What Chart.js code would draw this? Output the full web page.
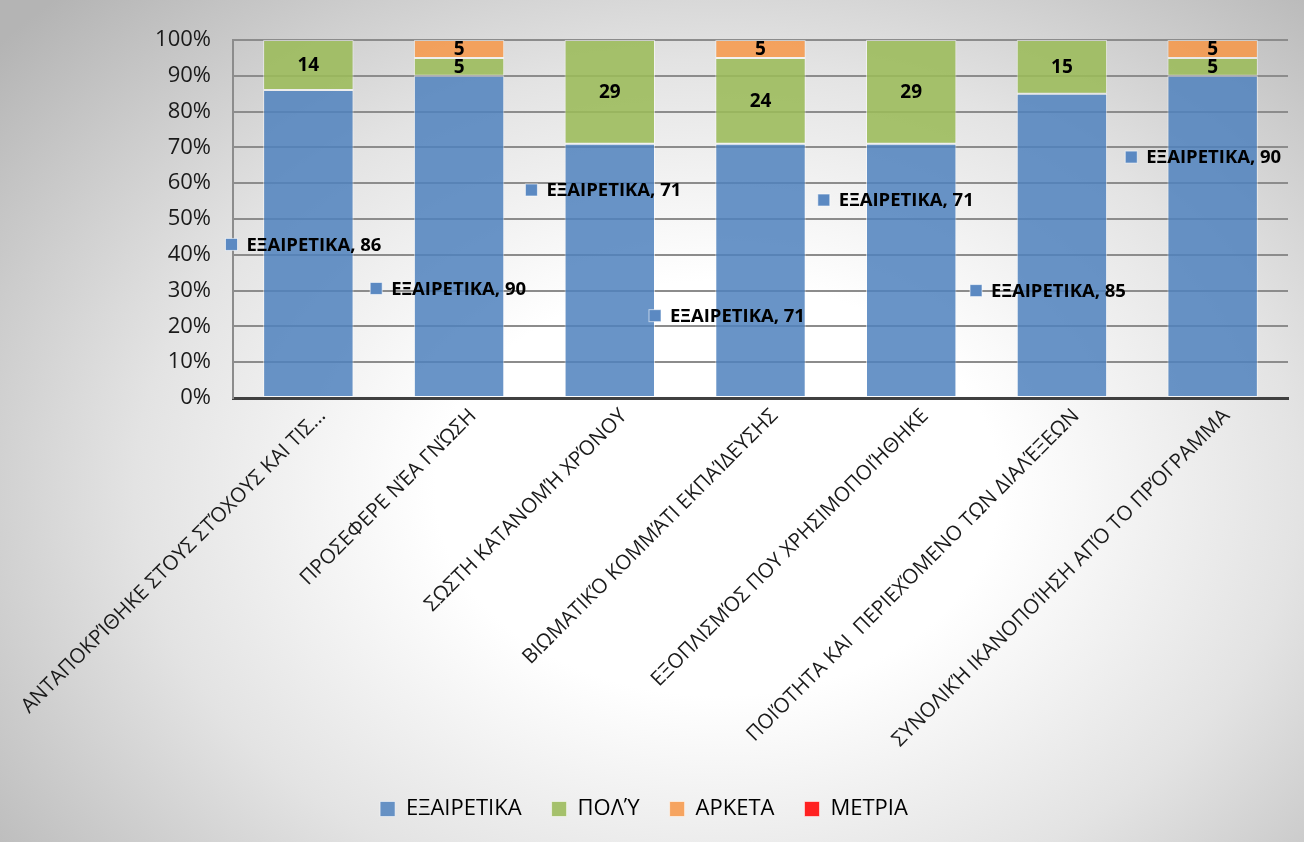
<!DOCTYPE html>
<html>
<head>
<meta charset="utf-8">
<script src="https://cdn.jsdelivr.net/npm/chart.js@4.4.1/dist/chart.umd.min.js"></script>
<style>
  html, body { margin: 0; padding: 0; }
  #wrap {
    width: 1304px; height: 842px;
    background: radial-gradient(ellipse 72% 82% at 55% 58%, #ffffff 30%, #e3e3e3 62%, #b4b4b4 100%);
  }
</style>
</head>
<body>
<div id="wrap"><canvas id="chart-data" width="1304" height="842"></canvas></div>
<script>
var categories = [
    "ΑΝΤΑΠΟΚΡΊΘΗΚΕ ΣΤΟΥΣ ΣΤΌΧΟΥΣ ΚΑΙ ΤΙΣ…",
    "ΠΡΟΣΕΦΕΡΕ ΝΈΑ ΓΝΏΣΗ",
    "ΣΩΣΤΗ ΚΑΤΑΝΟΜΉ ΧΡΌΝΟΥ",
    "ΒΙΩΜΑΤΙΚΌ ΚΟΜΜΆΤΙ ΕΚΠΑΊΔΕΥΣΗΣ",
    "ΕΞΟΠΛΙΣΜΌΣ ΠΟΥ ΧΡΗΣΙΜΟΠΟΙΉΘΗΚΕ",
    "ΠΟΙΌΤΗΤΑ ΚΑΙ  ΠΕΡΙΕΧΌΜΕΝΟ ΤΩΝ ΔΙΑΛΈΞΕΩΝ",
    "ΣΥΝΟΛΙΚΉ ΙΚΑΝΟΠΟΊΗΣΗ ΑΠΌ ΤΟ ΠΡΌΓΡΑΜΜΑ"
];
var excellent = [86, 90, 71, 71, 71, 85, 90];   // ΕΞΑΙΡΕΤΙΚΑ
var veryMuch = [14, 5, 29, 24, 29, 15, 5];      // ΠΟΛΎ
var enough = [0, 5, 0, 5, 0, 0, 5];             // ΑΡΚΕΤΑ
var moderate = [0, 0, 0, 0, 0, 0, 0];           // ΜΕΤΡΙΑ
var yTicks = [0, 10, 20, 30, 40, 50, 60, 70, 80, 90, 100];

// where excel dropped the ΕΞΑΙΡΕΤΙΚΑ callouts: [offset in categories, y value]
var calloutSpots = [[-0.51, 42.9], [-0.55, 30.6], [-0.52, 58.1], [-0.70, 23.0], [-0.58, 55.3], [-0.57, 30.0], [-0.54, 67.3]];

var FONT = "'Open Sans', sans-serif";
var blue = "rgba(79, 129, 189, 0.85)";

var barLabels = {
    id: "barLabels",
    afterDatasetsDraw: function (chart) {
        var ctx = chart.ctx;
        ctx.save();
        ctx.font = "bold 19px " + FONT;
        ctx.fillStyle = "#000";
        ctx.textAlign = "center";
        ctx.textBaseline = "middle";
        [1, 2].forEach(function (di) {
            var ds = chart.data.datasets[di];
            chart.getDatasetMeta(di).data.forEach(function (bar, i) {
                var v = ds.data[i];
                if (!v) return;
                var p = bar.getProps(["x", "y", "base"], true);
                ctx.fillText(String(v), p.x, (p.y + p.base) / 2 + 1);
            });
        });
        // callouts
        var xs = chart.scales.x, ys = chart.scales.y;
        var step = xs.width / categories.length;
        ctx.textAlign = "left";
        ctx.font = "bold 18.5px " + FONT;
        excellent.forEach(function (v, i) {
            var cx = xs.getPixelForValue(i) + calloutSpots[i][0] * step;
            var cy = ys.getPixelForValue(calloutSpots[i][1]);
            ctx.fillStyle = "#5b89c2";
            ctx.fillRect(cx - 6, cy - 6, 12, 12);
            ctx.strokeStyle = "rgba(255,255,255,0.6)";
            ctx.lineWidth = 1;
            ctx.strokeRect(cx - 6, cy - 6, 12, 12);
            ctx.fillStyle = "#000";
            ctx.fillText("ΕΞΑΙΡΕΤΙΚΑ, " + v, cx + 15, cy + 1);
        });
        ctx.restore();
    }
};

var ctx = document.getElementById("chart-data").getContext("2d");
var chart = new Chart(ctx, {
    type: "bar",
    data: {
        labels: categories,
        datasets: [
            { label: "ΕΞΑΙΡΕΤΙΚΑ", data: excellent, backgroundColor: blue },
            { label: "ΠΟΛΎ", data: veryMuch, backgroundColor: "rgba(155, 187, 89, 0.88)" },
            { label: "ΑΡΚΕΤΑ", data: enough, backgroundColor: "rgba(247, 150, 70, 0.85)" },
            { label: "ΜΕΤΡΙΑ", data: moderate, backgroundColor: "#ff2121" },
        ],
    },
    options: {
        responsive: false,
        animation: false,
        layout: { padding: { top: 40, right: 16, bottom: 12, left: 0 } },
        datasets: {
            bar: {
                categoryPercentage: 1,
                barPercentage: 0.6,
                borderColor: "rgba(255, 255, 255, 0.55)",
                borderWidth: 1,
                borderSkipped: false,
            },
        },
        plugins: {
            legend: {
                position: "bottom",
                labels: {
                    color: "#000",
                    font: { family: FONT, size: 22 },
                    boxWidth: 15,
                    boxHeight: 15,
                    padding: 30,
                },
            },
            tooltip: { enabled: false },
        },
        scales: {
            x: {
                stacked: true,
                grid: { display: false, drawTicks: false },
                border: { color: "#404040", width: 3 },
                ticks: {
                    color: "#1a1a1a",
                    font: { family: FONT, size: 20.5 },
                    maxRotation: 45,
                    minRotation: 45,
                    padding: 6,
                    labelOffset: 14,
                    autoSkip: false,
                },
                afterFit: function (scale) {
                    scale.height = 370;
                    scale.paddingLeft = 0;
                    scale.paddingRight = 0;
                },
            },
            y: {
                stacked: true,
                min: 0,
                max: 100,
                afterBuildTicks: function (scale) {
                    scale.ticks = yTicks.map(function (v) { return { value: v }; });
                },
                grid: { color: "#8c8c8c", lineWidth: 2, drawTicks: false },
                border: { color: "#8c8c8c", width: 2 },
                ticks: {
                    color: "#1a1a1a",
                    font: { family: FONT, size: 22 },
                    padding: 22,
                    callback: function (v) { return v + "%"; },
                },
                afterFit: function (scale) {
                    scale.width = 233;
                },
            },
        },
    },
    plugins: [barLabels],
});
</script>
</body>
</html>
